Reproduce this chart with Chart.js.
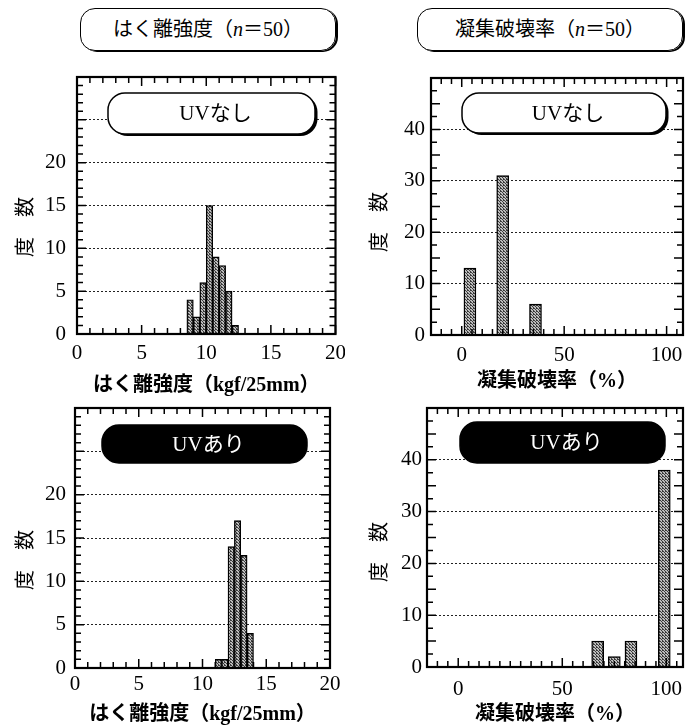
<!DOCTYPE html>
<html lang="ja">
<head>
<meta charset="utf-8">
<script src="https://cdn.jsdelivr.net/npm/chart.js@4.4.1/dist/chart.umd.min.js"></script>
<style>
  body { margin: 0; background: #fff; }
  #page { position: relative; width: 685px; height: 727px; overflow: hidden;
          font-family: 'Liberation Serif', 'Noto Sans CJK JP', serif; color: #000; }
  .panel { position: absolute; }
  .headBox { position: absolute; top: 8px; height: 43px; box-sizing: border-box;
             border: 1.5px solid #000; border-radius: 15px; box-shadow: 2px 1px 0 #000;
             font-size: 20px; line-height: 41px; text-align: center; }
  .yTitle { position: absolute; font-size: 20px; white-space: nowrap;
            transform: translate(-50%, -50%) rotate(-90deg); }
</style>
</head>
<body>
<div id="page">
  <div class="headBox" style="left:80px;width:256px;">はく離強度（<i>n</i>＝50）</div>
  <div class="headBox" style="left:417px;width:266px;">凝集破壊率（<i>n</i>＝50）</div>

  <div class="panel" style="left:0;top:50px;width:345px;height:348px;"><canvas id="peelNo"></canvas></div>
  <div class="panel" style="left:360px;top:50px;width:325px;height:344px;"><canvas id="rateNo"></canvas></div>
  <div class="panel" style="left:0;top:380px;width:340px;height:347px;"><canvas id="peelYes"></canvas></div>
  <div class="panel" style="left:360px;top:380px;width:325px;height:347px;"><canvas id="rateYes"></canvas></div>

  <div class="yTitle" style="left:23px;top:227px;">度　数</div>
  <div class="yTitle" style="left:377px;top:222px;">度　数</div>
  <div class="yTitle" style="left:23px;top:560px;">度　数</div>
  <div class="yTitle" style="left:377px;top:552px;">度　数</div>
</div>

<script>
'use strict';

// ******* Data *******
// peel strength bins (kgf/25mm), bin centres, width 0.5
const peelNoUVCenters = [8.75, 9.25, 9.75, 10.25, 10.75, 11.25, 11.75, 12.25];
const peelNoUV = [4, 2, 6, 15, 9, 8, 5, 1];
const peelUVCenters = [11.25, 11.75, 12.25, 12.75, 13.25, 13.75];
const peelUV = [1, 1, 14, 17, 13, 4];

// cohesive failure rate (%)
const rateNoUVCenters = [4, 20, 36];
const rateNoUV = [13, 31, 6];
const rateUVCenters = [67, 75, 83, 99];
const rateUV = [5, 2, 5, 38];

// tick labels
const peelTicks = [0, 5, 10, 15, 20];
const rateTicks = [0, 50, 100];
const peelCountTicks = [0, 5, 10, 15, 20];
const rateCountTicks = [0, 10, 20, 30, 40];

const FONT = "'Liberation Serif', 'Noto Sans CJK JP', serif";

// hatched grey fill like the printed bars
function hatch() {
  const c = document.createElement('canvas');
  c.width = 3; c.height = 3;
  const g = c.getContext('2d');
  g.fillStyle = '#bdbdbd';
  g.fillRect(0, 0, 3, 3);
  g.fillStyle = '#3c3c3c';
  g.fillRect(0, 0, 1, 1);
  g.fillRect(1, 1, 1, 1);
  g.fillRect(2, 2, 1, 1);
  g.fillRect(2, 0, 1, 1);
  return g.createPattern(c, 'repeat');
}

// frame, inward ticks on all four sides, and the UV label box
function framePlugin(cfg) {
  return {
    id: 'frame',
    afterDatasetsDraw(chart) {
      const {ctx, chartArea: a, scales: {x, y}} = chart;
      ctx.save();
      ctx.setLineDash([]);
      ctx.strokeStyle = '#000';
      ctx.lineWidth = 1.5;
      ctx.beginPath();
      const x0 = Math.ceil(cfg.xMin / cfg.xMinor) * cfg.xMinor;
      for (let v = x0; v <= cfg.xMax + 1e-9; v += cfg.xMinor) {
        const px = x.getPixelForValue(v);
        const len = cfg.xTicks.includes(v) ? 9 : 6;
        ctx.moveTo(px, a.bottom); ctx.lineTo(px, a.bottom - len);
        ctx.moveTo(px, a.top); ctx.lineTo(px, a.top + len);
      }
      for (let v = 0; v <= cfg.yMax + 1e-9; v += cfg.yMinor) {
        const py = y.getPixelForValue(v);
        const len = v % 5 === 0 ? 9 : 6;
        ctx.moveTo(a.left, py); ctx.lineTo(a.left + len, py);
        ctx.moveTo(a.right, py); ctx.lineTo(a.right - len, py);
      }
      ctx.stroke();

      ctx.lineWidth = 2.2;
      ctx.strokeRect(a.left, a.top, a.right - a.left, a.bottom - a.top);

      const b = cfg.box;
      const bx = a.left + b.x, by = a.top + b.y;
      if (!b.dark) {
        ctx.beginPath();
        ctx.roundRect(bx + 2.5, by + 2, b.w, b.h, 17);
        ctx.fillStyle = '#000';
        ctx.fill();
      }
      ctx.beginPath();
      ctx.roundRect(bx, by, b.w, b.h, 17);
      ctx.fillStyle = b.dark ? '#000' : '#fff';
      ctx.fill();
      ctx.lineWidth = 1.5;
      ctx.stroke();
      ctx.fillStyle = b.dark ? '#fff' : '#000';
      ctx.font = '21px ' + FONT;
      ctx.textAlign = 'center';
      ctx.textBaseline = 'middle';
      ctx.fillText(b.text, bx + b.w / 2 + 4, by + b.h / 2 + 1);
      ctx.restore();
    }
  };
}

function makeChart(id, centers, counts, cfg) {
  return new Chart(document.getElementById(id), {
    type: 'bar',
    data: {
      datasets: [{
        data: centers.map((c, i) => ({x: c, y: counts[i]})),
        backgroundColor: hatch(),
        borderColor: '#000',
        borderWidth: 1.4,
        barPercentage: 1,
        categoryPercentage: 1,
        barThickness: cfg.barThickness
      }]
    },
    options: {
      responsive: true,
      maintainAspectRatio: false,
      animation: false,
      layout: {padding: {top: cfg.pt, right: cfg.pr, left: 0, bottom: 0}},
      plugins: {
        legend: {display: false},
        tooltip: {enabled: false}
      },
      scales: {
        x: {
          type: 'linear',
          offset: false,
          min: cfg.xMin,
          max: cfg.xMax,
          grid: {display: false},
          border: {display: false},
          ticks: {color: '#000', font: {family: FONT, size: 21}, padding: cfg.xPad, maxRotation: 0, autoSkip: false},
          afterBuildTicks: s => { s.ticks = cfg.xTicks.map(v => ({value: v})); },
          afterFit: s => { s.height = cfg.xh; },
          title: {display: true, text: cfg.xTitle, color: '#000', padding: 0,
                  font: {family: FONT, size: 20, weight: 'bold'}}
        },
        y: {
          min: 0,
          max: cfg.yMax,
          grid: {color: '#222', lineWidth: 1, drawTicks: false},
          border: {display: false, dash: [2, 2]},
          ticks: {
            stepSize: 5,
            color: '#000',
            font: {family: FONT, size: 21},
            padding: cfg.yPad,
            callback: v => cfg.yTicks.includes(v) ? String(v) : ''
          },
          afterFit: s => { s.width = cfg.yw; }
        }
      }
    },
    plugins: [framePlugin(cfg)]
  });
}

makeChart('peelNo', peelNoUVCenters, peelNoUV, {
  pt: 27, pr: 8, yw: 77, xh: 64, yPad: 11, xPad: -1,
  xMin: 0, xMax: 20, xTicks: peelTicks, xMinor: 1,
  yMax: 30, yTicks: peelCountTicks, yMinor: 1,
  xTitle: 'はく離強度（kgf/25mm）',
  box: {text: 'UVなし', dark: false, x: 31, y: 16, w: 207, h: 41}
});

makeChart('rateNo', rateNoUVCenters, rateNoUV, {
  pt: 28, pr: 2, yw: 71, xh: 59, yPad: 6, xPad: 0, barThickness: 12,
  xMin: -15, xMax: 108, xTicks: rateTicks, xMinor: 5,
  yMax: 50, yTicks: rateCountTicks, yMinor: 2.5,
  xTitle: '凝集破壊率（%）',
  box: {text: 'UVなし', dark: false, x: 31, y: 15, w: 204, h: 40}
});

makeChart('peelYes', peelUVCenters, peelUV, {
  pt: 28, pr: 10, yw: 75, xh: 59, yPad: 9, xPad: -4,
  xMin: 0, xMax: 20, xTicks: peelTicks, xMinor: 1,
  yMax: 30, yTicks: peelCountTicks, yMinor: 1,
  xTitle: 'はく離強度（kgf/25mm）',
  box: {text: 'UVあり', dark: true, x: 27, y: 17, w: 205, h: 38}
});

makeChart('rateYes', rateUVCenters, rateUV, {
  pt: 28, pr: 2, yw: 67, xh: 60, yPad: 5, xPad: 2, barThickness: 12,
  xMin: -15, xMax: 108, xTicks: rateTicks, xMinor: 5,
  yMax: 50, yTicks: rateCountTicks, yMinor: 2.5,
  xTitle: '凝集破壊率（%）',
  box: {text: 'UVあり', dark: true, x: 33, y: 14, w: 205, h: 41}
});
</script>
</body>
</html>
